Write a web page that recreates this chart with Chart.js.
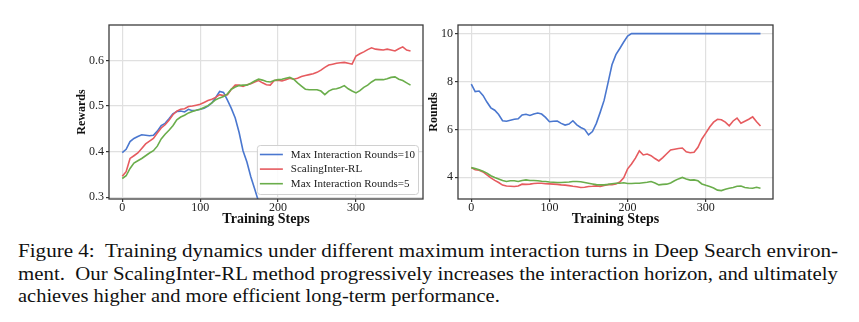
<!DOCTYPE html>
<html>
<head>
<meta charset="utf-8">
<script src="https://cdn.jsdelivr.net/npm/chart.js@4/dist/chart.umd.min.js"></script>
<style>
html, body { margin: 0; padding: 0; background: #fff; width: 859px; height: 322px; overflow: hidden; }
body { position: relative; }
#rewards { position: absolute; left: 0; top: 0; }
#rounds { position: absolute; left: 425px; top: 0; }
.cap { position: absolute; left: 18px; font-family: 'Liberation Serif', 'Times New Roman', serif; font-size: 18.5px; line-height: 1; white-space: nowrap; color: #111; transform-origin: 0 0; }
</style>
</head>
<body>
<canvas id="rewards" width="425" height="228"></canvas>
<canvas id="rounds" width="434" height="228"></canvas>
<div class="cap" id="cap1" style="top:241.5px">Figure 4:&nbsp; Training dynamics under different maximum interaction turns in Deep Search environ-</div>
<div class="cap" id="cap2" style="top:264.5px">ment.&nbsp; Our ScalingInter-RL method progressively increases the interaction horizon, and ultimately</div>
<div class="cap" id="cap3" style="top:286.5px">achieves higher and more efficient long-term performance.</div>
<script>
// training steps (every 5 steps)
const steps = [0, 5, 10, 15, 20, 25, 30, 35, 40, 45, 50, 55, 60, 65, 70, 75, 80, 85, 90, 95,
  100, 105, 110, 115, 120, 125, 130, 135, 140, 145, 150, 155, 160, 165, 170, 175, 180, 185, 190, 195,
  200, 205, 210, 215, 220, 225, 230, 235, 240, 245, 250, 255, 260, 265, 270, 275, 280, 285, 290, 295,
  300, 305, 310, 315, 320, 325, 330, 335, 340, 345, 350, 355, 360, 365, 370];

// rewards (left panel)
const rewardsMax10 = [0.398, 0.405, 0.422, 0.429, 0.433, 0.437, 0.436, 0.435, 0.436, 0.445,
  0.457, 0.462, 0.472, 0.483, 0.488, 0.489, 0.487, 0.493, 0.490, 0.491,
  0.493, 0.495, 0.500, 0.507, 0.519, 0.532, 0.530, 0.513, 0.495, 0.474,
  0.442, 0.402, 0.377, 0.345, 0.318, 0.290, 0.260, 0.230];
const rewardsScaling = [0.346, 0.356, 0.385, 0.391, 0.397, 0.407, 0.417, 0.423, 0.429, 0.441,
  0.452, 0.459, 0.469, 0.481, 0.489, 0.493, 0.494, 0.499, 0.500, 0.502,
  0.504, 0.508, 0.512, 0.515, 0.519, 0.525, 0.523, 0.525, 0.537, 0.546,
  0.546, 0.543, 0.547, 0.549, 0.553, 0.556, 0.551, 0.547, 0.546, 0.556,
  0.557, 0.555, 0.558, 0.561, 0.559, 0.561, 0.565, 0.567, 0.569, 0.571,
  0.574, 0.579, 0.585, 0.590, 0.592, 0.594, 0.595, 0.596, 0.594, 0.592,
  0.610, 0.615, 0.619, 0.624, 0.628, 0.625, 0.624, 0.623, 0.625, 0.623,
  0.621, 0.626, 0.630, 0.623, 0.621];
const rewardsMax5 = [0.341, 0.347, 0.363, 0.375, 0.380, 0.385, 0.391, 0.397, 0.402, 0.412,
  0.428, 0.438, 0.447, 0.457, 0.470, 0.476, 0.480, 0.485, 0.488, 0.491,
  0.493, 0.497, 0.501, 0.507, 0.514, 0.518, 0.521, 0.527, 0.537, 0.542,
  0.545, 0.546, 0.546, 0.550, 0.555, 0.559, 0.557, 0.554, 0.553, 0.556,
  0.558, 0.559, 0.561, 0.563, 0.559, 0.551, 0.544, 0.537, 0.536, 0.536,
  0.536, 0.533, 0.525, 0.533, 0.537, 0.538, 0.541, 0.545, 0.538, 0.533,
  0.529, 0.534, 0.541, 0.546, 0.553, 0.558, 0.558, 0.558, 0.560, 0.563,
  0.564, 0.559, 0.556, 0.551, 0.546];

// rounds (right panel)
const roundsMax10 = [7.89, 7.58, 7.60, 7.42, 7.14, 6.90, 6.80, 6.62, 6.36, 6.34,
  6.38, 6.42, 6.44, 6.60, 6.63, 6.58, 6.64, 6.68, 6.64, 6.50,
  6.32, 6.34, 6.35, 6.25, 6.18, 6.22, 6.36, 6.19, 6.08, 6.00,
  5.77, 5.91, 6.25, 6.72, 7.22, 7.95, 8.70, 9.12, 9.38, 9.65,
  9.90, 10, 10, 10, 10, 10, 10, 10, 10, 10,
  10, 10, 10, 10, 10, 10, 10, 10, 10, 10,
  10, 10, 10, 10, 10, 10, 10, 10, 10, 10,
  10, 10, 10, 10, 10];
const roundsScaling = [4.40, 4.31, 4.29, 4.22, 4.10, 3.97, 3.87, 3.78, 3.67, 3.63,
  3.62, 3.61, 3.63, 3.71, 3.70, 3.71, 3.74, 3.75, 3.75, 3.73,
  3.72, 3.71, 3.70, 3.68, 3.67, 3.65, 3.62, 3.60, 3.57, 3.58,
  3.61, 3.62, 3.64, 3.62, 3.66, 3.69, 3.69, 3.72, 3.80, 3.98,
  4.35, 4.55, 4.80, 5.10, 4.93, 4.97, 4.90, 4.78, 4.68, 4.82,
  4.98, 5.14, 5.17, 5.20, 5.22, 5.06, 5.02, 5.04, 5.25, 5.60,
  5.84, 6.10, 6.30, 6.42, 6.40, 6.30, 6.15, 6.35, 6.47, 6.26,
  6.34, 6.42, 6.52, 6.32, 6.14];
const roundsMax5 = [4.40, 4.36, 4.31, 4.25, 4.17, 4.06, 3.99, 3.93, 3.86, 3.82,
  3.85, 3.85, 3.82, 3.86, 3.89, 3.86, 3.86, 3.85, 3.83, 3.82,
  3.80, 3.79, 3.78, 3.78, 3.79, 3.80, 3.82, 3.82, 3.81, 3.78,
  3.75, 3.72, 3.69, 3.68, 3.68, 3.70, 3.73, 3.75, 3.75, 3.77,
  3.74, 3.74, 3.75, 3.75, 3.77, 3.79, 3.82, 3.76, 3.68, 3.70,
  3.71, 3.76, 3.85, 3.93, 3.99, 3.93, 3.88, 3.89, 3.85, 3.72,
  3.66, 3.61, 3.55, 3.46, 3.44, 3.50, 3.54, 3.57, 3.62, 3.63,
  3.57, 3.55, 3.54, 3.58, 3.54];

const stepTicks = [0, 100, 200, 300];
const rewardTicks = [0.3, 0.4, 0.5, 0.6];
const roundTicks = [4, 6, 8, 10];
const seriesLabels = ['Max Interaction Rounds=10', 'ScalingInter-RL', 'Max Interaction Rounds=5'];
const seriesColors = ['#4a77cf', '#e65b5f', '#6aad4b'];

Chart.defaults.font.family = "'Liberation Serif', 'Times New Roman', serif";
Chart.defaults.color = '#222';

function toPoints(vals) {
  return vals.map((v, i) => ({ x: steps[i], y: v }));
}

function datasets(a, b, c) {
  return [a, b, c].map((vals, i) => ({
    label: seriesLabels[i],
    data: toPoints(vals),
    borderColor: seriesColors[i],
    borderWidth: 1.6,
    pointRadius: 0,
    tension: 0,
    fill: false,
    order: 3 - i
  }));
}

// dark box round the plot, like matplotlib's frame
const framePlugin = {
  id: 'frame',
  afterDatasetsDraw(chart) {
    const { ctx, chartArea: a } = chart;
    ctx.save();
    ctx.strokeStyle = '#3c3c3c';
    ctx.lineWidth = 1.3;
    ctx.strokeRect(a.left, a.top, a.right - a.left, a.bottom - a.top);
    ctx.restore();
  }
};

// legend box in the lower right corner of the plot
const boxLegend = {
  id: 'boxLegend',
  afterDraw(chart) {
    const { ctx, chartArea: a } = chart;
    const sets = chart.data.datasets;
    ctx.save();
    ctx.font = "11px 'Liberation Serif', serif";
    const textW = Math.max(...sets.map(d => ctx.measureText(d.label).width));
    const w = 3 + 23 + 8 + textW + 3;
    const h = 49;
    const x = a.right - 5 - w;
    const y = a.bottom - 5 - h;
    ctx.fillStyle = 'rgba(255,255,255,0.85)';
    ctx.strokeStyle = '#d0d0d0';
    ctx.lineWidth = 1;
    ctx.beginPath();
    ctx.roundRect(x + 0.5, y + 0.5, w, h, 3);
    ctx.fill();
    ctx.stroke();
    sets.forEach((d, i) => {
      const ry = y + 9.5 + i * 14.6;
      ctx.strokeStyle = d.borderColor;
      ctx.lineWidth = 1.6;
      ctx.beginPath();
      ctx.moveTo(x + 3, ry);
      ctx.lineTo(x + 26, ry);
      ctx.stroke();
      ctx.fillStyle = '#1a1a1a';
      ctx.textBaseline = 'middle';
      ctx.fillText(d.label, x + 34, ry + 0.5);
    });
    ctx.restore();
  }
};

function axes(yMin, yMax, yTicks, yTitle, yWidth, yTitlePad, fmt) {
  return {
    x: {
      type: 'linear', min: -17, max: 386,
      afterBuildTicks: s => { s.ticks = stepTicks.map(v => ({ value: v })); },
      afterFit: s => { s.height = 29; },
      grid: { color: '#e0e0e0', lineWidth: 1.2, tickColor: '#333', tickLength: 3 },
      border: { display: false },
      ticks: { font: { size: 12 }, padding: -1, maxRotation: 0, color: '#222' },
      title: { display: true, text: 'Training Steps', color: '#111', font: { size: 14, weight: 'bold' }, padding: { top: 0, bottom: 0 } }
    },
    y: {
      type: 'linear', min: yMin, max: yMax,
      afterBuildTicks: s => { s.ticks = yTicks.map(v => ({ value: v })); },
      afterFit: s => { s.width = yWidth; },
      grid: { color: '#e0e0e0', lineWidth: 1.2, tickColor: '#333', tickLength: 3 },
      border: { display: false },
      ticks: { font: { size: 12 }, padding: 2, color: '#222', callback: fmt },
      title: { display: true, text: yTitle, color: '#111', font: { size: 12, weight: 'bold' }, padding: { top: yTitlePad, bottom: 0 } }
    }
  };
}

new Chart(document.getElementById('rewards'), {
  type: 'line',
  data: { datasets: datasets(rewardsMax10, rewardsScaling, rewardsMax5) },
  options: {
    responsive: false,
    animation: false,
    layout: { padding: { left: 70, right: 2, top: 25, bottom: 0 } },
    plugins: { legend: { display: false }, tooltip: { enabled: false } },
    scales: axes(0.296, 0.678, rewardTicks, 'Rewards', 39, 5, v => v.toFixed(1))
  },
  plugins: [framePlugin, boxLegend]
});

new Chart(document.getElementById('rounds'), {
  type: 'line',
  data: { datasets: datasets(roundsMax10, roundsScaling, roundsMax5) },
  options: {
    responsive: false,
    animation: false,
    layout: { padding: { left: 2, right: 86, top: 25, bottom: 0 } },
    plugins: { legend: { display: false }, tooltip: { enabled: false } },
    scales: axes(3.09, 10.36, roundTicks, 'Rounds', 31, 0, v => String(v))
  },
  plugins: [framePlugin]
});

// stretch the caption lines so the first two fill the text block;
// the last line keeps natural spacing, so it is a touch narrower
const target = 820;
let firstScale = 1;
['cap1', 'cap2'].forEach(id => {
  const el = document.getElementById(id);
  const w = el.getBoundingClientRect().width;
  const k = target / w;
  el.style.transform = 'scaleX(' + k + ')';
  if (id === 'cap1') firstScale = k;
});
document.getElementById('cap3').style.transform = 'scaleX(' + (firstScale * 0.97) + ')';
</script>
</body>
</html>
